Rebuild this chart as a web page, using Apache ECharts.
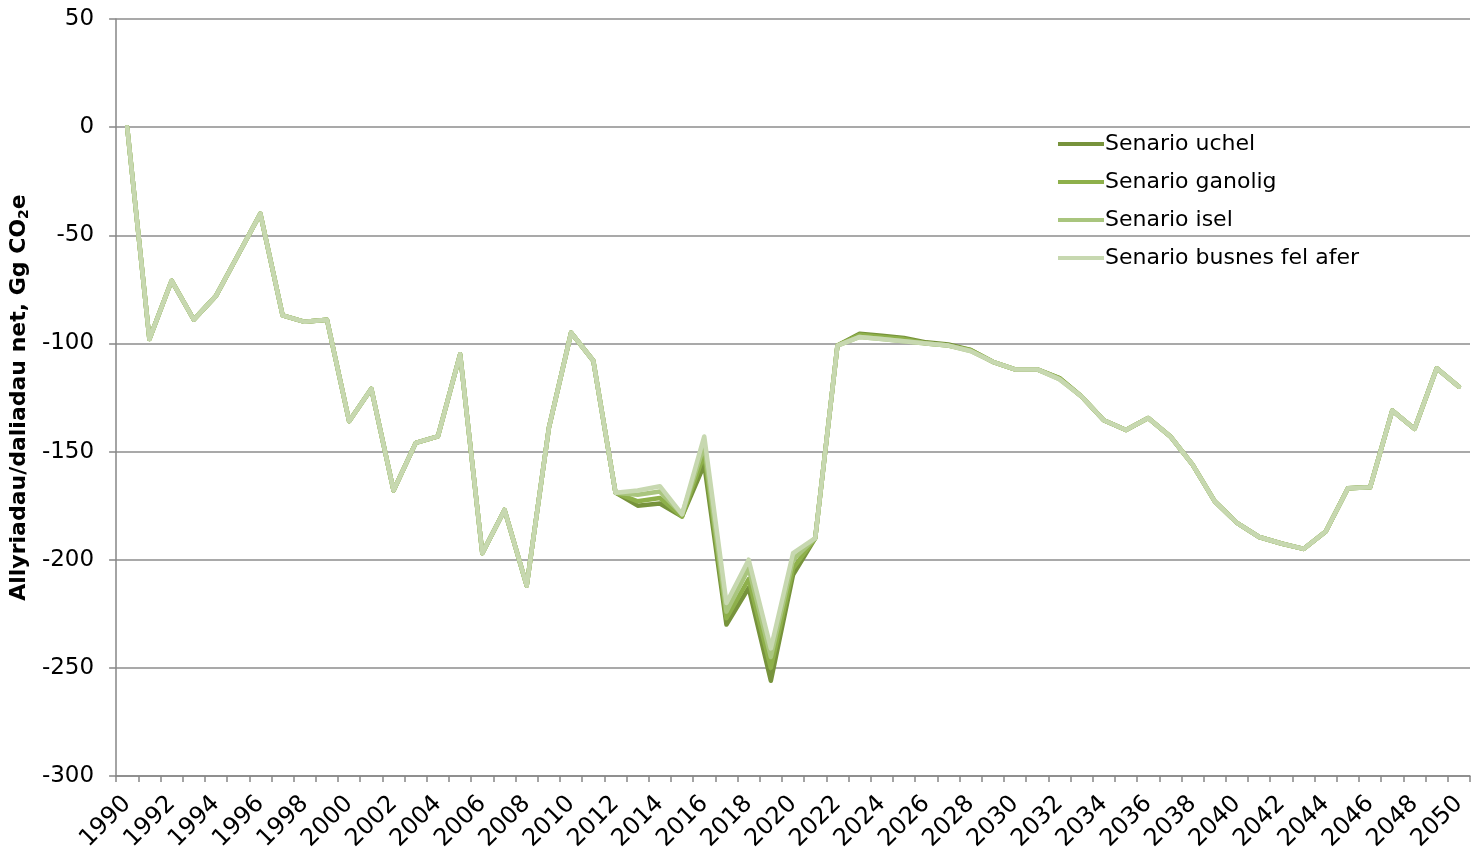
<!DOCTYPE html>
<html>
<head>
<meta charset="utf-8">
<script src="https://cdn.jsdelivr.net/npm/echarts@6/dist/echarts.min.js"></script>
<style>
  html, body { margin: 0; padding: 0; background: #fff; }
  #main { width: 1479px; height: 854px; }
</style>
</head>
<body>
<div id="main"></div>
<script>
var years = [];
for (var y = 1990; y <= 2050; y++) years.push(String(y));

// shared history 1990-2011
var hanes = [0, -98, -71, -89, -78, -59, -40, -87, -90, -89, -136, -121, -168, -146, -143, -105,
             -197, -177, -212, -139, -95, -108];

// 2012-2021, where the scenarios split
var uchelMid   = [-169, -175, -174, -180, -156, -230, -213, -256, -207, -190];
var ganoligMid = [-169, -173, -171.5, -180, -151, -227, -209, -250, -204, -190];
var iselMid    = [-169, -170, -168.5, -179, -147, -224, -204, -245, -200, -190];
var busnesMid  = [-169, -168, -166, -179, -143, -220, -200, -241, -197, -190];

// 2022-2050
var uchelTail  = [-101, -95.5, -96.5, -97.5, -99.5, -100.5, -103, -108.5, -112, -112, -116, -124.5,
                  -135.5, -140, -134.5, -143, -156, -173, -183, -189.5, -192.5, -195, -187, -167,
                  -166.5, -131, -139.5, -111.5, -120];
var ganoligTail = [-101, -96, -97, -98, -100, -101, -103, -108.5, -112, -112, -116, -124.5,
                  -135.5, -140, -134.5, -143, -156, -173, -183, -189.5, -192.5, -195, -187, -167,
                  -166.5, -131, -139.5, -111.5, -120];
var busnesTail = [-101, -97, -98, -99, -100, -101, -103.5, -108.5, -112, -112, -116.5, -124.5,
                  -135.5, -140, -134.5, -143, -156, -173, -183, -189.5, -192.5, -195, -187, -167,
                  -166.5, -131, -139.5, -111.5, -120];

var names  = ['Senario uchel', 'Senario ganolig', 'Senario isel', 'Senario busnes fel afer'];
var colors = ['#77933c', '#8eb04b', '#a9c57e', '#c7d8b0'];

var uchel   = hanes.concat(uchelMid, uchelTail);
var ganolig = hanes.concat(ganoligMid, ganoligTail);
var isel    = hanes.concat(iselMid, busnesTail);
var busnes  = hanes.concat(busnesMid, busnesTail);
var allData = [uchel, ganolig, isel, busnes];

var chart = echarts.init(document.getElementById('main'));
var option = {
    animation: false,
    textStyle: { fontFamily: 'DejaVu Sans, sans-serif' },
    grid: { left: 115, right: 9, top: 19, bottom: 78, containLabel: false },
    legend: {
        orient: 'vertical',
        left: 1053,
        top: 128,
        icon: 'rect',
        itemWidth: 46,
        itemHeight: 4,
        itemGap: 16,
        data: names,
        textStyle: { fontSize: 22, color: '#000', padding: [0, 0, 0, -4] }
    },
    xAxis: {
        type: 'category',
        data: years,
        boundaryGap: true,
        axisLine: { onZero: false, lineStyle: { color: '#868686', width: 1.5 } },
        axisTick: { show: true, length: 6, interval: 0, lineStyle: { color: '#868686', width: 1.5 } },
        axisLabel: { interval: 1, rotate: 45, fontSize: 24, color: '#000', margin: 24 },
        splitLine: { show: false }
    },
    yAxis: {
        type: 'value',
        min: -300,
        max: 50,
        interval: 50,
        name: '{a|Allyriadau/daliadau net, Gg CO}{s|2}{a|e}',
        nameLocation: 'middle',
        nameGap: 78,
        nameRotate: 90,
        nameTextStyle: {
            rich: {
                a: { fontSize: 22, fontWeight: 'bold', color: '#000', fontFamily: 'DejaVu Sans' },
                s: { fontSize: 14, fontWeight: 'bold', color: '#000', fontFamily: 'DejaVu Sans', verticalAlign: 'bottom', padding: [10, 0, 0, 0] }
            }
        },
        axisLine: { show: true, lineStyle: { color: '#868686', width: 1.5 } },
        axisTick: { show: true, length: 7, lineStyle: { color: '#868686', width: 1.5 } },
        axisLabel: { fontSize: 23, color: '#000', margin: 22 },
        splitLine: { lineStyle: { color: '#8c8c8c', width: 1.5 } }
    },
    series: names.map(function (n, i) {
        return {
            name: n,
            type: 'line',
            data: allData[i],
            symbol: 'none',
            z: 2 + i,
            lineStyle: { color: colors[i], width: 4.5, join: 'round', cap: 'round' },
            itemStyle: { color: colors[i] }
        };
    })
};
chart.setOption(option);
</script>
</body>
</html>
